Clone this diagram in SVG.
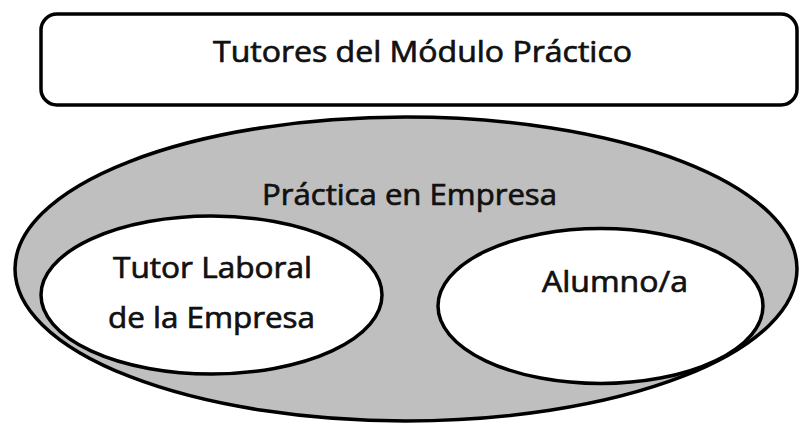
<svg xmlns="http://www.w3.org/2000/svg" width="801" height="425" viewBox="0 0 801 425">
<style>
.shape{stroke:#000;stroke-width:3.5}
.lbl{font-family:"Open Sans","Noto Sans","DejaVu Sans",sans-serif;font-size:30px;fill:#111;stroke:#111;stroke-width:0.7;text-anchor:middle}
</style>
<rect width="801" height="425" fill="#fff"/>
<g id="tutores">
<rect class="shape" x="41" y="14" width="756" height="91" rx="16" fill="#fff"/>
<text class="lbl" x="422.5" y="62" textLength="419" lengthAdjust="spacingAndGlyphs">Tutores del Módulo Práctico</text>
</g>
<g id="practica">
<ellipse class="shape" cx="406" cy="269" rx="391" ry="152" fill="#bfbfbf"/>
<text class="lbl" x="409.5" y="205" textLength="295" lengthAdjust="spacingAndGlyphs">Práctica en Empresa</text>
</g>
<g id="tutor-laboral">
<ellipse class="shape" cx="211.5" cy="295" rx="170.5" ry="79" fill="#fff"/>
<text class="lbl" x="212.5" y="278" textLength="199" lengthAdjust="spacingAndGlyphs">Tutor Laboral</text>
<text class="lbl" x="211.5" y="328" textLength="207" lengthAdjust="spacingAndGlyphs">de la Empresa</text>
</g>
<g id="alumno">
<ellipse class="shape" cx="600.5" cy="306" rx="162.5" ry="77.5" fill="#fff"/>
<text class="lbl" x="615" y="292" textLength="146" lengthAdjust="spacingAndGlyphs">Alumno/a</text>
</g>
<g id="connectors"></g>
</svg>
